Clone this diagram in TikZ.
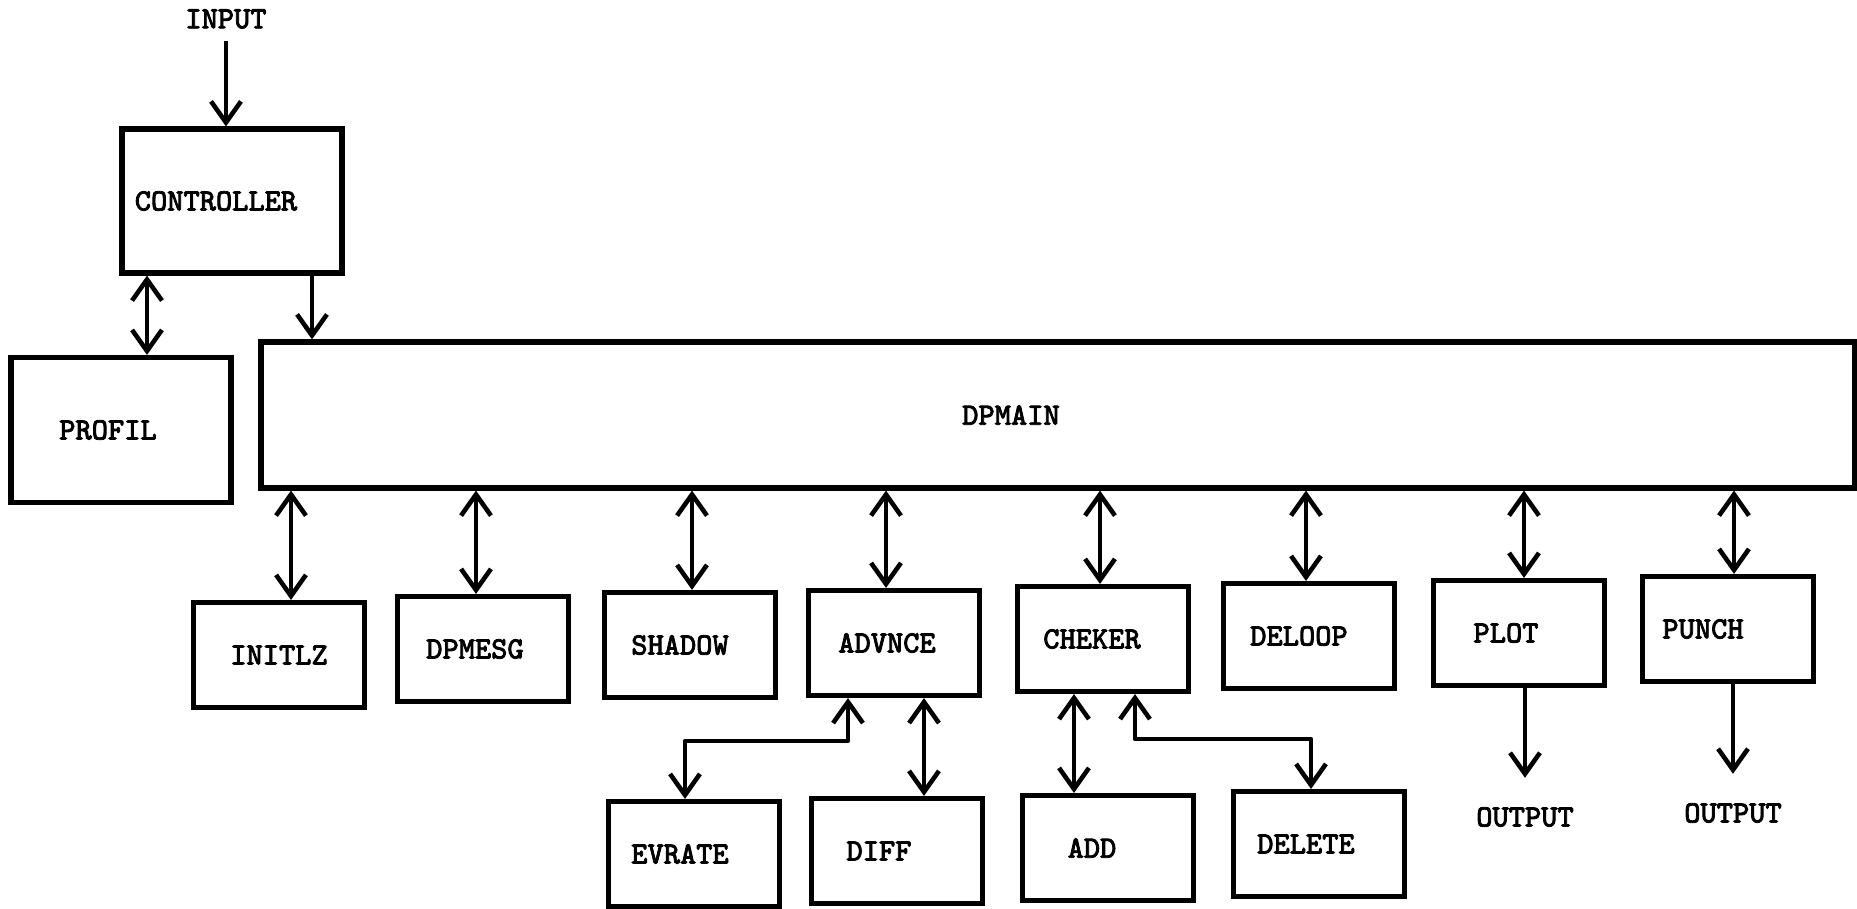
\documentclass[tikz,border=0pt]{standalone}
\usepackage{fontspec}
\newfontfamily\typew{Latin Modern Mono}[FakeBold=2.5]
\usetikzlibrary{arrows.meta}
\tikzset{
  blk/.style={draw, line width=1.45pt, inner sep=0pt, minimum width=17.1mm, minimum height=10.5mm},
  arr/.style={line width=1.3pt, line join=round, -{Straight Barb[length=6pt,width=8.5pt]}},
  dbl/.style={line width=1.3pt, line join=round, {Straight Barb[length=6pt,width=8.5pt]}-{Straight Barb[length=6pt,width=8.5pt]}},
}
\begin{document}
\begin{tikzpicture}[x=0.1mm, y=-0.1mm, font=\typew\fontsize{8.8}{10}\selectfont]
	\useasboundingbox (0,0) rectangle (1857,909);
	% top part
	\node (input) at (226,19) {INPUT};
	\node[blk, minimum width=22mm, minimum height=14.4mm] (ctrl) at (232,201) {CONTROLLER\rule{3.2mm}{0pt}};
	\node[blk, minimum width=22mm, minimum height=14.5mm] (profil) at (121,430) {PROFIL\rule{2.6mm}{0pt}};
	\node[blk, minimum width=159.4mm, minimum height=14.6mm] (dpmain) at (1058,415) {DPMAIN\rule{9.4mm}{0pt}};
	% routines under DPMAIN
	\node[blk] (initlz) at (279,655) {INITLZ};
	\node[blk] (dpmesg) at (483,649) {DPMESG\rule{1.6mm}{0pt}};
	\node[blk] (shadow) at (690,645) {SHADOW\rule{2mm}{0pt}};
	\node[blk] (advnce) at (894,643) {ADVNCE\rule{1.4mm}{0pt}};
	\node[blk] (cheker) at (1103,639) {CHEKER\rule{2.2mm}{0pt}};
	\node[blk] (deloop) at (1309,636) {DELOOP\rule{2mm}{0pt}};
	\node[blk] (plot) at (1519,633) {PLOT\rule{2.6mm}{0pt}};
	\node[blk] (punch) at (1728,629) {PUNCH\rule{5mm}{0pt}};
	% bottom row
	\node[blk] (evrate) at (694,854) {EVRATE\rule{2.8mm}{0pt}};
	\node[blk] (diff) at (897,851) {DIFF\rule{3.6mm}{0pt}};
	\node[blk] (add) at (1108,848) {ADD\rule{3.2mm}{0pt}};
	\node[blk] (delete) at (1319,844) {DELETE\rule{2.6mm}{0pt}};
	\node (out1) at (1525,817) {OUTPUT};
	\node (out2) at (1733,813) {OUTPUT};
	% connectors
	\draw[arr] (input) -- (input |- ctrl.north);
	\draw[dbl] (147,0 |- ctrl.south) -- (147,0 |- profil.north);
	\draw[arr] (312,0 |- ctrl.south) -- (312,0 |- dpmain.north);
	\foreach \n/\x in {initlz/291, dpmesg/476, shadow/692, advnce/886, cheker/1100, deloop/1306, plot/1524, punch/1734}
		\draw[dbl] (\x,0 |- dpmain.south) -- (\x,0 |- \n.north);
	\draw[dbl] (848,0 |- advnce.south) |- (685,741) -- (685,0 |- evrate.north);
	\draw[dbl] (924,0 |- advnce.south) -- (924,0 |- diff.north);
	\draw[dbl] (1074,0 |- cheker.south) -- (1074,0 |- add.north);
	\draw[dbl] (1135,0 |- cheker.south) |- (1311,739) -- (1311,0 |- delete.north);
	\draw[arr, shorten >=1.7mm] (1525,0 |- plot.south) -- (out1);
	\draw[arr, shorten >=1.7mm] (1733,0 |- punch.south) -- (out2);
\end{tikzpicture}
\end{document}
